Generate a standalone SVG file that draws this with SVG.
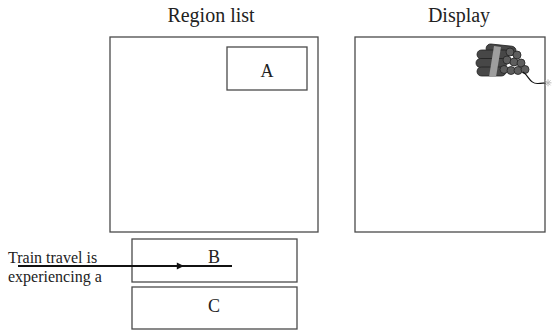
<svg xmlns="http://www.w3.org/2000/svg" width="559" height="332" viewBox="0 0 559 332">
  <style>
    .box { fill: #fff; stroke: #4a4a4a; stroke-width: 1.3; }
    .title { font-family: "Liberation Serif", "Times New Roman", serif; font-size: 20px; fill: #222; text-anchor: middle; }
    .lbl { font-family: "Liberation Serif", "Times New Roman", serif; font-size: 18px; fill: #222; text-anchor: middle; }
    .note { font-family: "Liberation Serif", "Times New Roman", serif; font-size: 16px; fill: #222; }
    .stick { fill: #474747; stroke: #222; stroke-width: 0.8; }
    .end { fill: #5e5e5e; stroke: #222; stroke-width: 0.8; }
    .conn { stroke: #111; stroke-width: 2; fill: none; }
  </style>
  <defs>
    <!-- arrowhead placed at the middle vertex of the ticker line -->
    <marker id="arrowhead" viewBox="0 0 10 10" refX="10" refY="5" markerWidth="4" markerHeight="3.6" orient="auto" markerUnits="strokeWidth">
      <path d="M0,0 L10,5 L0,10 z" fill="#111"/>
    </marker>
  </defs>

  <rect width="559" height="332" fill="#fff"/>

  <!-- column titles -->
  <text class="title" x="211" y="22">Region list</text>
  <text class="title" x="459" y="22">Display</text>

  <g id="region-list">
    <rect class="box" x="110" y="37" width="208" height="195"/>
  </g>

  <g id="region-a">
    <rect class="box" x="227" y="47" width="80" height="43"/>
    <text class="lbl" x="267" y="77">A</text>
  </g>

  <g id="display">
    <rect class="box" x="355" y="37" width="190" height="195"/>
    <!-- dynamite bundle -->
    <g id="dynamite">
      <!-- sticks seen from the side, back row first -->
      <rect class="stick" x="486" y="45" width="30" height="9" rx="4.5" transform="rotate(6 500 50)"/>
      <rect class="stick" x="477" y="50" width="32" height="9" rx="4.5"/>
      <rect class="stick" x="476" y="58.5" width="31" height="9" rx="4.5"/>
      <rect class="stick" x="477" y="67" width="29" height="9" rx="4.5"/>
      <!-- tape band -->
      <polygon points="494,46 501,47 496,77 489,77" fill="#9e9e9e"/>
      <!-- stick ends -->
      <circle class="end" cx="510" cy="52" r="4"/>
      <circle class="end" cx="517" cy="55" r="4"/>
      <circle class="end" cx="507" cy="60" r="4"/>
      <circle class="end" cx="514" cy="62" r="4"/>
      <circle class="end" cx="521" cy="63" r="4"/>
      <circle class="end" cx="504" cy="69.5" r="4"/>
      <circle class="end" cx="511" cy="70.5" r="4"/>
      <circle class="end" cx="518" cy="70.5" r="4"/>
      <circle class="end" cx="525" cy="69.5" r="4"/>
      <!-- fuse and spark -->
      <path d="M523,72 C529,76 530,84 538,83.5 C542,83.3 544,82.8 546,82.8" fill="none" stroke="#111" stroke-width="1.2"/>
      <g stroke="#bcbcbc" stroke-width="1">
        <line x1="544.5" y1="82.8" x2="551.5" y2="82.8"/>
        <line x1="548" y1="79.3" x2="548" y2="86.3"/>
        <line x1="545.5" y1="80.3" x2="550.5" y2="85.3"/>
        <line x1="545.5" y1="85.3" x2="550.5" y2="80.3"/>
      </g>
    </g>
  </g>

  <g id="region-b">
    <rect class="box" x="132" y="239" width="165" height="43"/>
    <text class="lbl" x="214" y="263">B</text>
  </g>

  <g id="region-c">
    <rect class="box" x="132" y="287" width="165" height="42"/>
    <text class="lbl" x="214" y="312">C</text>
  </g>

  <g id="ticker-text">
    <text class="note" x="8" y="263">Train travel is</text>
    <text class="note" x="8" y="282">experiencing a</text>
  </g>

  <g id="connectors">
    <polyline class="conn" points="18,266 184,266 232,266" marker-mid="url(#arrowhead)"/>
  </g>
</svg>
